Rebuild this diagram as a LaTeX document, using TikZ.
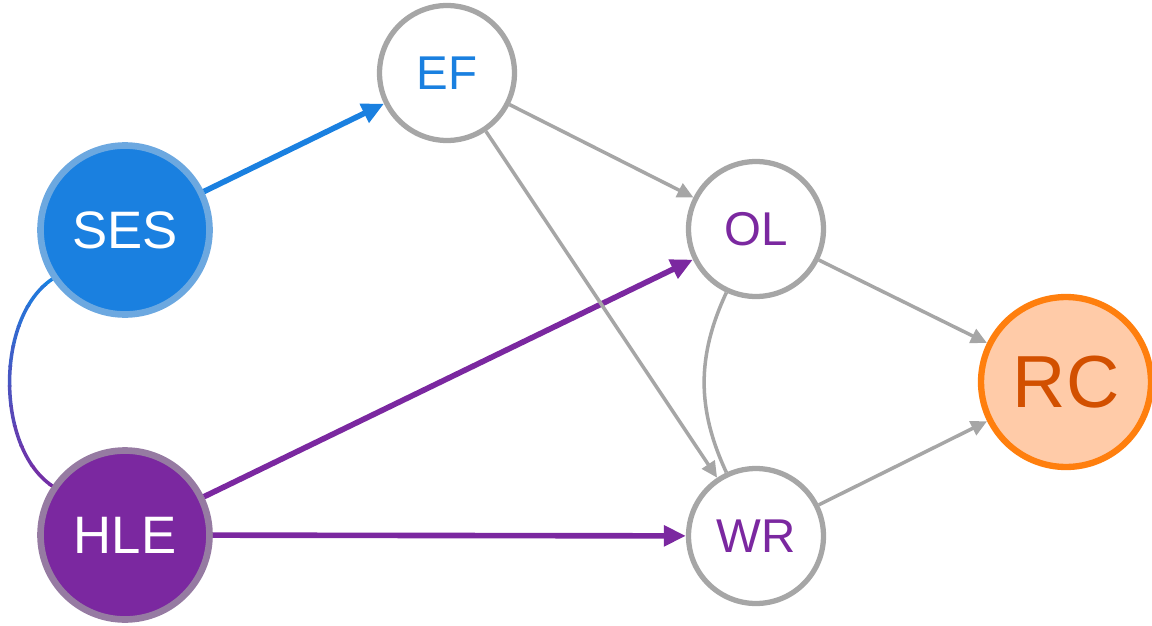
\documentclass[tikz,border=0pt]{standalone}
\usepackage{fontspec}
\setmainfont{Liberation Sans}
\usetikzlibrary{arrows.meta}

\definecolor{sesblue}{HTML}{1A80E0}
\definecolor{sesring}{HTML}{6CA8E0}
\definecolor{hlepurple}{HTML}{7B28A0}
\definecolor{hlering}{HTML}{967BA2}
\definecolor{edgegray}{HTML}{A6A6A6}
\definecolor{rcfill}{HTML}{FFCBA8}
\definecolor{rcring}{HTML}{FF7F0E}
\definecolor{rctext}{HTML}{D25000}

\begin{document}
\begin{tikzpicture}[x=0.02cm, y=-0.02cm,
        var/.style={circle, draw=edgegray, line width=3pt, fill=white, minimum size=2.7cm, inner sep=0pt, font=\fontsize{27}{27}\selectfont},
        root/.style={circle, line width=3.8pt, minimum size=3.38cm, inner sep=0pt, text=white, font=\fontsize{30}{30}\selectfont},
        link/.style={color=edgegray, line width=2pt, -{Triangle[length=0.32cm, width=0.3cm]}},
        strong/.style={line width=3.2pt, -{Triangle[length=0.44cm, width=0.4cm]}}]
        \useasboundingbox (0,0) rectangle (1152,625);

        \node[root, fill=sesblue, draw=sesring] (ses) at (125,230) {SES};
        \node[root, fill=hlepurple, draw=hlering] (hle) at (125,535) {HLE};
        \node[var, text=sesblue] (ef) at (447,73) {EF};
        \node[var, text=hlepurple] (ol) at (756,229) {OL};
        \node[var, text=hlepurple] (wr) at (756,536) {WR};
        \node[circle, draw=rcring, fill=rcfill, text=rctext, line width=3.6pt, minimum size=3.4cm, inner sep=0pt, font=\fontsize{42}{42}\selectfont] (rc) at (1066,382) {RC};

        % SES -- HLE, blue fading into purple
        \foreach \i in {0,...,11} {
            \pgfmathtruncatemacro{\mixpct}{100-\i*100/11}
            \begin{scope}
                \clip (0,{265+\i*20}) rectangle (300,{286+\i*20});
                \draw[sesblue!\mixpct!hlepurple, line width=2pt] (ses) to[out=-146, in=146, looseness=0.85] (hle);
            \end{scope}
        }

        \path[strong, sesblue] (ses) edge (ef);
        \path[strong, hlepurple]
        (hle) edge (ol)
        (hle) edge (wr);

        \path[link]
        (ef) edge (ol)
        (ef) edge (wr)
        (ol) edge (rc)
        (wr) edge (rc);

        \draw[edgegray, line width=2pt] (ol) to[out=-115, in=115] (wr);
    \end{tikzpicture}
\end{document}
